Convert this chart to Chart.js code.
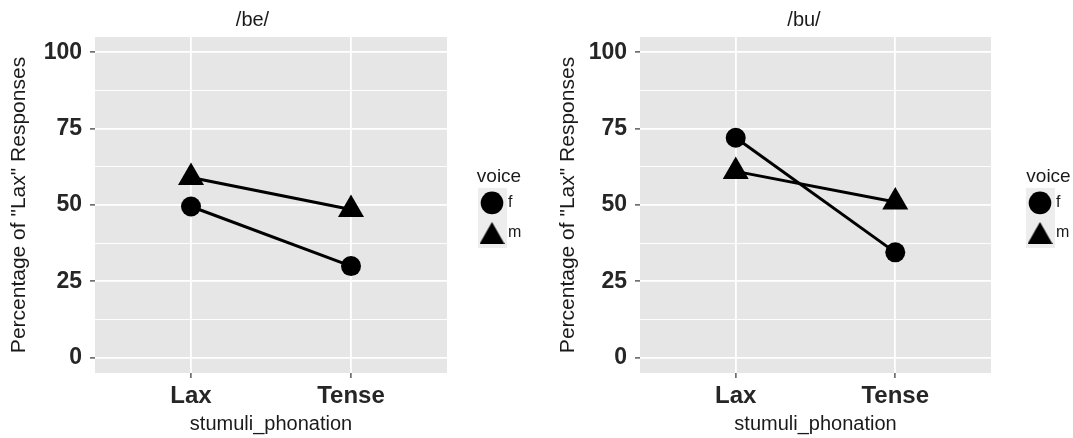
<!DOCTYPE html>
<html>
<head>
<meta charset="utf-8">
<script src="https://cdn.jsdelivr.net/npm/chart.js@4"></script>
<style>
  body { margin: 0; background: #fff; }
  #wrap { position: relative; width: 1073px; height: 438px; }
  canvas { position: absolute; top: 0; }
</style>
</head>
<body>
<div id="wrap">
  <canvas id="chartBe" width="540" height="438" style="left:0"></canvas>
  <canvas id="chartBu" width="517" height="438" style="left:556px"></canvas>
</div>
<script>
const categories = ['Lax', 'Tense'];
const beF = [49.5, 30];
const beM = [59, 48.5];
const buF = [72, 34.5];
const buM = [61, 51];
const yTicks = [0, 12.5, 25, 37.5, 50, 62.5, 75, 87.5, 100];
const yLabels = ['0', '', '25', '', '50', '', '75', '', '100'];

Chart.defaults.font.family = "'Liberation Sans', Arial, sans-serif";
const txt = '#1a1a1a';
const tickTxt = '#262626';

// legend triangle key, a bit bigger than the built-in one
function triGlyph(w, h) {
  const c = document.createElement('canvas');
  c.width = w; c.height = h;
  const g = c.getContext('2d');
  g.fillStyle = '#000';
  g.beginPath(); g.moveTo(w / 2, 0); g.lineTo(w, h); g.lineTo(0, h); g.closePath(); g.fill();
  return c;
}
const legendTri = triGlyph(25, 22);

// grey panel + grey legend keys, and legend placement
const panelBg = {
  id: 'panelBg',
  beforeLayout(chart, args, opts) {
    const lg = chart.legend;
    if (lg && !lg._fixedFit) {
      const orig = lg.fit;
      lg.fit = function () { orig.call(this); this.width = opts.legendWidth; };
      lg._fixedFit = true;
    }
  },
  afterLayout(chart, args, opts) {
    const lg = chart.legend;
    const dx = opts.keyX - (lg.left + lg.options.labels.padding + 8);
    lg.left += dx;
    lg.right += dx;
  },
  beforeDraw(chart) {
    const {ctx, chartArea: a} = chart;
    ctx.save();
    ctx.fillStyle = '#E6E6E6';
    ctx.fillRect(a.left, a.top, a.right - a.left, a.bottom - a.top);
    const lg = chart.legend;
    if (lg && lg.legendHitBoxes) {
      ctx.fillStyle = '#EDEDED';
      lg.legendHitBoxes.forEach(hb => {
        const cx = hb.left + 8, cy = hb.top + 8;
        ctx.fillRect(cx - 14, cy - 15, 29, 30);
      });
    }
    ctx.restore();
  }
};

function toPoints(vals) {
  return vals.map((v, i) => ({x: i + 1, y: v}));
}

function makePanel(id, title, fVals, mVals, yWidth, yTitlePad, legendWidth, rightPad, keyX) {
  return new Chart(document.getElementById(id), {
    type: 'line',
    data: {
      datasets: [
        {label: 'f', data: toPoints(fVals), pointStyle: 'circle', pointRadius: 10,
         borderColor: '#000', backgroundColor: '#000', borderWidth: 3, pointBorderWidth: 0},
        {label: 'm', data: toPoints(mVals), pointStyle: 'triangle', pointRadius: 15,
         borderColor: '#000', backgroundColor: '#000', borderWidth: 3, pointBorderWidth: 0}
      ]
    },
    plugins: [panelBg],
    options: {
      responsive: false,
      animation: false,
      events: [],
      layout: {padding: {left: 0, right: rightPad, top: 0, bottom: 0}},
      scales: {
        x: {
          type: 'linear', min: 0.4, max: 2.6,
          afterBuildTicks: s => { s.ticks = categories.map((c, i) => ({value: i + 1})); },
          afterFit: s => { s.height = 65; },
          ticks: {autoSkip: false, maxRotation: 0, padding: 4, color: tickTxt,
                  font: {size: 24, weight: 'bold'}, callback: (v, i) => categories[i]},
          grid: {color: '#fff', lineWidth: 1.8, tickColor: '#333', tickLength: 5, tickWidth: 1.2},
          border: {display: false},
          title: {display: true, text: 'stumuli_phonation', color: txt, font: {size: 20},
                  padding: {top: 0, bottom: 2}}
        },
        y: {
          min: -5, max: 105,
          afterBuildTicks: s => { s.ticks = yTicks.map(v => ({value: v})); },
          afterFit: s => { s.width = yWidth; },
          ticks: {autoSkip: false, padding: 8, color: tickTxt,
                  font: {size: 23, weight: 'bold'}, callback: (v, i) => yLabels[i]},
          grid: {
            color: '#fff',
            lineWidth: c => yLabels[c.index] !== '' ? 1.8 : 0.9,
            tickColor: c => yLabels[c.index] !== '' ? '#333' : 'rgba(0,0,0,0)',
            tickLength: 5, tickWidth: 1.2
          },
          border: {display: false},
          title: {display: true, text: 'Percentage of "Lax" Responses', color: txt,
                  font: {size: 21}, padding: {top: yTitlePad, bottom: 0}}
        }
      },
      plugins: {
        panelBg: {legendWidth: legendWidth, keyX: keyX},
        tooltip: {enabled: false},
        title: {display: true, text: title, color: txt, font: {size: 20, weight: 'normal'},
                padding: {top: 8, bottom: 5}},
        legend: {
          position: 'right',
          fullSize: false,
          title: {display: true, text: 'voice', color: txt, font: {size: 19},
                  padding: {top: 12, bottom: -9}},
          labels: {
            usePointStyle: true, padding: 14, color: txt, font: {size: 16},
            generateLabels: chart => chart.data.datasets.map((d, i) => ({
              text: d.label, fillStyle: '#000', strokeStyle: '#000', lineWidth: 0,
              pointStyle: d.pointStyle === 'triangle' ? legendTri : d.pointStyle,
              datasetIndex: i, fontColor: txt
            }))
          }
        }
      }
    }
  });
}

makePanel('chartBe', '/be/', beF, beM, 95, 7, 58, 35, 492);
makePanel('chartBu', '/bu/', buF, buM, 84, 0, 61, 21, 484);
</script>
</body>
</html>
